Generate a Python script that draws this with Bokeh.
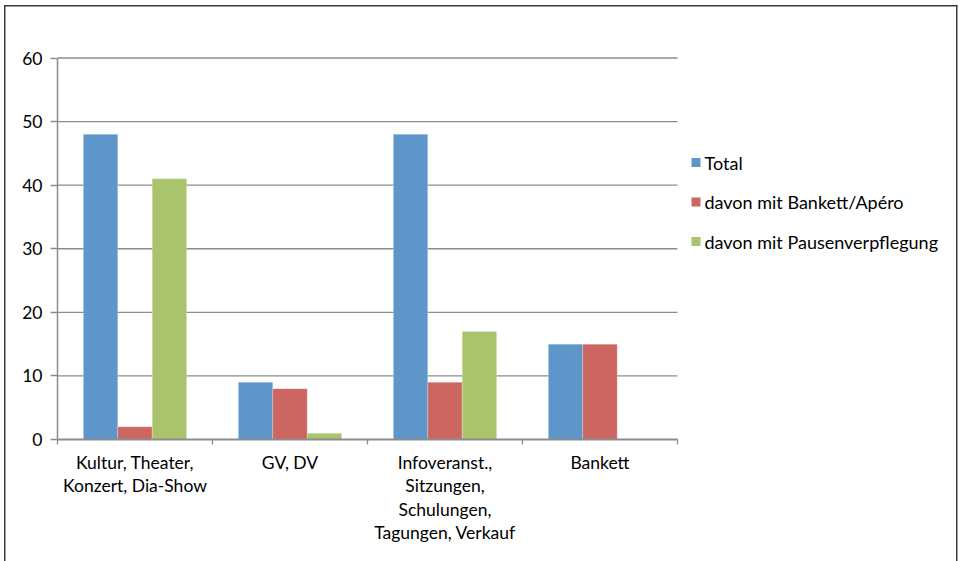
from bokeh.plotting import figure
from bokeh.models import FixedTicker, Label, Range1d
from bokeh.embed import file_html
from bokeh.resources import INLINE

# Event categories and the counts for each series
categories = ["Kultur, Theater,\nKonzert, Dia-Show", "GV, DV",
              "Infoveranst.,\nSitzungen,\nSchulungen,\nTagungen, Verkauf", "Bankett"]
series_names = ["Total", "davon mit Bankett/Apéro", "davon mit Pausenverpflegung"]
total = [48, 9, 48, 15]
bankett_apero = [2, 8, 9, 15]
pausenverpflegung = [41, 1, 17, 0]
y_ticks = [0, 10, 20, 30, 40, 50, 60]
colors = ["#5F96CA", "#CD6660", "#A9C46C"]

FONT = "Lato"
FS = "17.5px"
LEGEND_FS = "18px"
GRID = "#8C8C8C"
BORDER = "#3A3A3A"
W, H = 960, 561

# pixel layout of the plotting frame
X0, CAT_W = 57, 155          # left edge of the value axis, width of one category
Y0, PX_PER_UNIT = 439, 381.5 / 60
FRAME_TOP, FRAME_RIGHT = 52, 958

n_cat = len(categories)
x_end = (FRAME_RIGHT - X0) / CAT_W
y_end = (Y0 - FRAME_TOP) / PX_PER_UNIT


def px_to_x(px):
    return (px - X0) / CAT_W


def py_to_y(py):
    return (Y0 - py) / PX_PER_UNIT


p = figure(width=W, height=H, output_backend="svg", toolbar_location=None,
           x_range=Range1d(0, x_end), y_range=Range1d(0, y_end),
           min_border_left=X0, min_border_right=W - FRAME_RIGHT,
           min_border_top=FRAME_TOP, min_border_bottom=H - Y0)
p.outline_line_color = None
p.border_fill_color = None
p.background_fill_color = None
p.xgrid.grid_line_color = None
p.ygrid.grid_line_color = None

# white page with the chart-area border (left, top and right edges)
line = f"linear-gradient({BORDER},{BORDER})"
p.styles = {
    "background": (f"{line} 4px 4.5px / 1.5px 700px no-repeat, "
                   f"{line} 4px 4.5px / 953.5px 1.5px no-repeat, "
                   f"{line} 956px 4.5px / 1.5px 700px no-repeat, #ffffff"),
}

# horizontal grid lines across the category area only
grid_y = y_ticks[1:]
p.segment(x0=[0] * len(grid_y), x1=[n_cat] * len(grid_y), y0=grid_y, y1=grid_y,
          line_color=GRID, line_width=1.3)

# grouped bars: three series per category, 150% gap width
bar_w = 1.0 / 4.5
centers = [i + 0.5 for i in range(n_cat)]
for k, (vals, col) in enumerate(zip([total, bankett_apero, pausenverpflegung], colors)):
    xs = [c + (k - 1) * bar_w for c in centers]
    p.vbar(x=xs, top=vals, bottom=0, width=bar_w, fill_color=col,
           line_color="white", line_alpha=0.3, line_width=0.8)

# value axis
p.yaxis.bounds = (0, 60)
p.yaxis.ticker = FixedTicker(ticks=y_ticks)
p.yaxis.minor_tick_line_color = None
p.yaxis.major_tick_out = 7
p.yaxis.major_tick_in = 0
p.yaxis.major_label_standoff = 8
p.yaxis.axis_line_color = GRID
p.yaxis.axis_line_width = 1.5
p.yaxis.major_tick_line_color = GRID
p.yaxis.major_tick_line_width = 1.3
p.yaxis.major_label_text_font = FONT
p.yaxis.major_label_text_font_size = FS
p.yaxis.major_label_text_color = "#000000"

# category axis: labels at the centres, tick marks at the boundaries
p.xaxis.bounds = (0, n_cat)
p.xaxis.ticker = FixedTicker(ticks=centers, minor_ticks=list(range(n_cat + 1)))
p.xaxis.major_label_overrides = {c: t for c, t in zip(centers, categories)}
p.xaxis.major_tick_line_color = None
p.xaxis.major_tick_out = 0
p.xaxis.major_tick_in = 0
p.xaxis.minor_tick_out = 5
p.xaxis.minor_tick_in = 0
p.xaxis.minor_tick_line_color = GRID
p.xaxis.minor_tick_line_width = 1.3
p.xaxis.major_label_standoff = 7
p.xaxis.axis_line_color = GRID
p.xaxis.axis_line_width = 2
p.xaxis.major_label_text_font = FONT
p.xaxis.major_label_text_font_size = FS
p.xaxis.major_label_text_color = "#000000"
p.xaxis.major_label_text_line_height = 1.12

# legend to the right of the bars
leg_py = [162, 201.5, 241]
leg_y = [py_to_y(v) for v in leg_py]
p.scatter(x=[px_to_x(695.5)] * 3, y=leg_y, marker="square", size=9,
          fill_color=colors, line_color=None)
for name, ly in zip(series_names, leg_y):
    p.add_layout(Label(x=px_to_x(704), y=ly, text=name,
                       text_align="left", text_baseline="middle",
                       text_font=FONT, text_font_size=LEGEND_FS,
                       text_color="#000000"))

open("out.html", "w").write(file_html(p, INLINE))
